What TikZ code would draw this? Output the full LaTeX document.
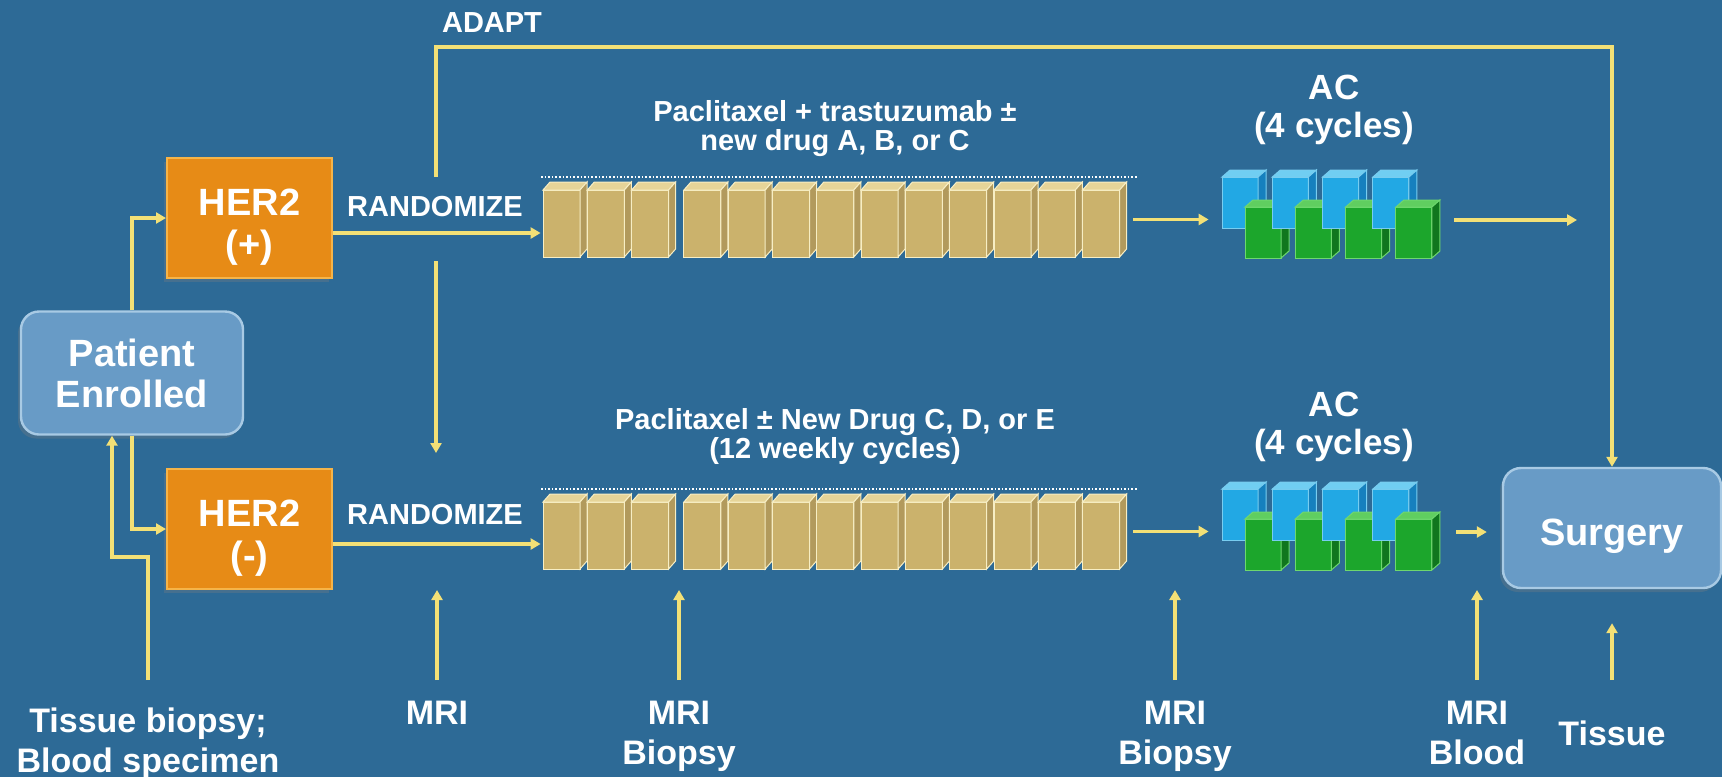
\documentclass[tikz,border=0pt]{standalone}
\usepackage{fontspec}
\setmainfont{Liberation Sans}
\usetikzlibrary{arrows.meta,shadows}

\definecolor{slide}{RGB}{45,106,150}
\definecolor{arrowyellow}{RGB}{243,224,118}
\definecolor{herorange}{RGB}{231,139,22}
\definecolor{heredge}{RGB}{246,180,72}
\definecolor{stepblue}{RGB}{104,155,198}
\definecolor{stepedge}{RGB}{168,202,228}
\definecolor{taxfront}{RGB}{203,178,108}
\definecolor{taxtop}{RGB}{230,212,152}
\definecolor{taxside}{RGB}{178,154,92}
\definecolor{taxedge}{RGB}{247,238,196}
\definecolor{acbluefront}{RGB}{34,168,228}
\definecolor{acbluetop}{RGB}{112,206,242}
\definecolor{acblueside}{RGB}{22,128,190}
\definecolor{acblueedge}{RGB}{120,205,240}
\definecolor{acgreenfront}{RGB}{28,166,44}
\definecolor{acgreentop}{RGB}{96,206,96}
\definecolor{acgreenside}{RGB}{16,118,30}
\definecolor{acgreenedge}{RGB}{110,215,110}

% one paclitaxel week, front top-left corner at (#1,#2)
\newcommand{\taxblock}[2]{%
  \filldraw[fill=taxfront,draw=taxedge,line width=0.5pt] (#1,#2) rectangle ++(37,67);
  \filldraw[fill=taxtop,draw=taxedge,line width=0.5pt] (#1,#2) -- ++(7,-8) -- ++(37,0) -- ++(-7,8) -- cycle;
  \filldraw[fill=taxside,draw=taxedge,line width=0.5pt] (#1+37,#2) -- ++(7,-8) -- ++(0,67) -- ++(-7,8) -- cycle;
}
% one AC cube, colour prefix #3
\newcommand{\accube}[3]{%
  \filldraw[fill=#3front,draw=#3edge,line width=0.5pt] (#1,#2) rectangle ++(36,51);
  \filldraw[fill=#3top,draw=#3edge,line width=0.5pt] (#1,#2) -- ++(8,-7) -- ++(36,0) -- ++(-8,7) -- cycle;
  \filldraw[fill=#3side,draw=#3edge,line width=0.5pt] (#1+36,#2) -- ++(8,-7) -- ++(0,51) -- ++(-8,7) -- cycle;
}

\begin{document}
\begin{tikzpicture}[x=0.5pt,y=-0.5pt]
	\tikzset{flow_arrow/.style={draw=arrowyellow,line width=1.6pt,-{Triangle[length=5pt,width=5.5pt]}}}
	\tikzset{her_box/.style={fill=herorange,draw=heredge,line width=1pt,minimum width=82.5pt,minimum height=60pt,text height=43pt,text=white,align=center,font=\fontsize{19}{21}\selectfont\bfseries,drop shadow={opacity=0.3,shadow xshift=-1.5pt,shadow yshift=-2pt}}}
	\tikzset{step_box/.style={rounded corners=9pt,fill=stepblue,draw=stepedge,line width=1.2pt,text=white,align=center,font=\fontsize{19}{20.5}\selectfont\bfseries,drop shadow={opacity=0.3,shadow xshift=-1.5pt,shadow yshift=-2pt}}}
	\tikzset{head_text/.style={text=white,font=\fontsize{14.5}{15}\selectfont\bfseries}}
	\tikzset{drug_text/.style={text=white,align=center,font=\fontsize{14.5}{14.5}\selectfont\bfseries}}
	\tikzset{ac_text/.style={text=white,align=center,font=\fontsize{17.5}{19}\selectfont\bfseries}}
	\tikzset{test_text/.style={text=white,align=center,inner sep=0pt,anchor=north,font=\fontsize{17}{20}\selectfont\bfseries}}
	\tikzset{slot/.style={inner sep=0pt}}
	\tikzset{week_line/.style={draw=white,densely dotted,line width=0.8pt}}

	\fill[slide] (0,0) rectangle (1722,777);
	\useasboundingbox (0,0) rectangle (1722,777);

	% boxes
	\node[step_box,minimum width=111pt,minimum height=61.5pt] (patient) at (132,373) {Patient\\Enrolled};
	\node[her_box] (her2p) at (249.5,218) {HER2\\(+)};
	\node[her_box] (her2n) at (249.5,529) {HER2\\(-)};
	\node[step_box,minimum width=109pt,minimum height=60pt,text height=21.5pt] (surgery) at (1612,528) {Surgery};

	% paclitaxel weeks
	\draw[week_line] (541,177) -- (1138,177);
	\draw[week_line] (541,489) -- (1138,489);
	\foreach \i in {0,...,12} {
		\pgfmathsetmacro\bx{543+44.3*\i+(\i>2)*8}
		\taxblock{\bx}{190}
		\taxblock{\bx}{502}
	}
	\node[slot,minimum width=294.5pt,minimum height=37.5pt] (taxp) at (835.5,219.5) {};
	\node[slot,minimum width=294.5pt,minimum height=37.5pt] (taxn) at (835.5,531.5) {};

	% AC cycles
	\foreach \i in {0,...,3} {
		\pgfmathsetmacro\cx{1222+50.3*\i}
		\accube{\cx}{177}{acblue}
		\accube{\cx+23}{207}{acgreen}
		\accube{\cx}{489}{acblue}
		\accube{\cx+23}{519}{acgreen}
	}
	\node[slot,minimum width=109pt,minimum height=50pt] (cubep) at (1331,220) {};
	\node[slot,minimum width=109pt,minimum height=50pt] (cuben) at (1331,532) {};

	% labels
	\node[head_text] (adapt) at (492,23) {ADAPT};
	\node[head_text] (randp) at (435,207) {RANDOMIZE};
	\node[head_text] (randn) at (435,515) {RANDOMIZE};
	\node[drug_text] (drugp) at (835,129) {Paclitaxel + trastuzumab ±\\new drug A, B, or C};
	\node[drug_text] (drugn) at (835,436) {Paclitaxel ± New Drug C, D, or E\\(12 weekly cycles)};
	\node[ac_text] (acp) at (1334,110) {AC\\(4 cycles)};
	\node[ac_text] (acn) at (1334,427) {AC\\(4 cycles)};

	\node[test_text] (tisbio) at (148,707) {Tissue biopsy;\\Blood specimen};
	\node[test_text] (mri1) at (437,701) {MRI};
	\node[test_text] (mri2) at (679,701) {MRI\\Biopsy};
	\node[test_text] (mri3) at (1175,701) {MRI\\Biopsy};
	\node[test_text] (mri4) at (1477,701) {MRI\\Blood};
	\node[test_text] (tissue) at (1612,720) {Tissue};

	\coordinate (adaptfoot) at (436,177);
	\coordinate (dropA) at (436,261);
	\coordinate (dropB) at (436,453);
	\coordinate (bypass) at (1577,220);

	% connectors
	\draw[flow_arrow] (patient.north) |- (her2p.west);
	\draw[flow_arrow] (patient.south) |- (her2n.west);
	\draw[flow_arrow] ([yshift=13.5pt]tisbio.north) -- ++(0,-123) -| ([xshift=-10pt]patient.south);
	\draw[flow_arrow] ([yshift=-7.5pt]her2p.east) -- ([yshift=-7.5pt]her2p.east -| taxp.west);
	\draw[flow_arrow] ([yshift=-7.5pt]her2n.east) -- ([yshift=-7.5pt]her2n.east -| taxn.west);
	\draw[flow_arrow] (adaptfoot) -- ++(0,-130) -| (surgery.north);
	\draw[flow_arrow] (dropA) -- (dropB);
	\draw[flow_arrow,shorten <=1.5pt,shorten >=6.5pt] (taxp.east) -- (taxp.east -| cubep.west);
	\draw[flow_arrow,shorten <=1.5pt,shorten >=6.5pt] (taxn.east) -- (taxn.east -| cuben.west);
	\draw[flow_arrow,shorten <=7pt] (cubep.east) -- (bypass);
	\draw[flow_arrow,shorten <=8pt,shorten >=7.5pt] (cuben.east) -- (cuben.east -| surgery.west);
	\draw[flow_arrow] ([yshift=10.5pt]mri1.north) -- (mri1.north |- her2n.south);
	\draw[flow_arrow] ([yshift=10.5pt]mri2.north) -- (mri2.north |- her2n.south);
	\draw[flow_arrow] ([yshift=10.5pt]mri3.north) -- (mri3.north |- her2n.south);
	\draw[flow_arrow] ([yshift=10.5pt]mri4.north) -- (mri4.north |- her2n.south);
	\draw[flow_arrow,shorten >=17pt] ([yshift=20pt]tissue.north) -- (surgery.south);
\end{tikzpicture}
\end{document}
